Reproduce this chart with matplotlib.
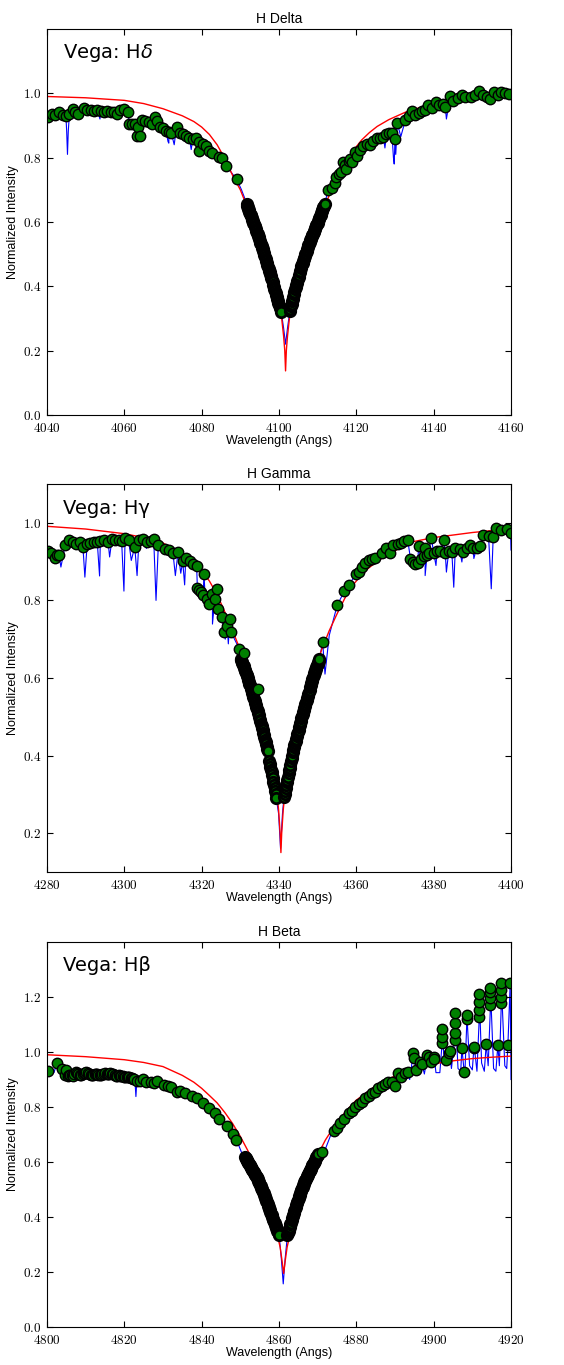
import numpy as np
import matplotlib.pyplot as plt
from matplotlib.ticker import FuncFormatter

plt.rcParams['mathtext.fontset'] = 'cm'
plt.rcParams['font.family'] = ['Liberation Sans', 'DejaVu Sans']

# шаг сетки длин волн в ядре линии (Å)
STEP = 0.15

# ---------------- H Delta ----------------
d_left_x = [4040.3, 4041.2, 4042.1, 4043.2, 4044.1, 4044.9, 4045.8, 4046.6, 4047.3, 4048.0,
            4049.6, 4050.4, 4051.3, 4052.2, 4053.0, 4053.9, 4054.7, 4055.6, 4056.5, 4057.3,
            4058.0, 4058.9, 4059.9, 4060.9, 4061.3, 4062.0, 4062.7, 4063.2, 4063.6, 4064.0,
            4064.6, 4065.4, 4066.4, 4067.2, 4068.0, 4068.4, 4069.2, 4070.1, 4070.8, 4071.6,
            4072.2, 4073.5, 4074.4, 4075.3, 4075.9, 4076.8, 4077.7, 4078.5, 4079.2, 4079.4,
            4080.3, 4081.1, 4082.0, 4082.8, 4084.4, 4085.3, 4086.3, 4089.1]
d_left_y = [0.927, 0.935, 0.931, 0.942, 0.932, 0.930, 0.937, 0.951, 0.942, 0.937,
            0.955, 0.947, 0.949, 0.944, 0.949, 0.945, 0.941, 0.944, 0.941, 0.942,
            0.937, 0.947, 0.951, 0.943, 0.906, 0.904, 0.906, 0.867, 0.895, 0.866,
            0.916, 0.914, 0.910, 0.906, 0.926, 0.914, 0.895, 0.892, 0.883, 0.880,
            0.875, 0.895, 0.877, 0.873, 0.866, 0.862, 0.858, 0.862, 0.849, 0.821,
            0.843, 0.835, 0.821, 0.813, 0.802, 0.798, 0.775, 0.732]
d_coreL_x0 = 4091.6
d_coreL_y = [0.655, 0.650, 0.645, 0.641, 0.636, 0.631, 0.626, 0.622, 0.617, 0.612,
             0.607, 0.603, 0.598, 0.593, 0.588, 0.583, 0.578, 0.573, 0.567, 0.562,
             0.557, 0.552, 0.547, 0.541, 0.536, 0.531, 0.526, 0.520, 0.515, 0.509,
             0.503, 0.497, 0.491, 0.485, 0.479, 0.473, 0.467, 0.461, 0.455, 0.449,
             0.443, 0.437, 0.431, 0.425, 0.418, 0.412, 0.405, 0.399, 0.392, 0.386,
             0.379, 0.373, 0.367, 0.361, 0.355, 0.349, 0.343, 0.337, 0.331, 0.325, 0.319]
d_coreR_x0 = 4102.8
d_coreR_y = [0.322, 0.330, 0.338, 0.346, 0.353, 0.361, 0.368, 0.376, 0.383, 0.391,
             0.397, 0.404, 0.410, 0.417, 0.423, 0.430, 0.436, 0.443, 0.449, 0.456,
             0.462, 0.468, 0.473, 0.479, 0.484, 0.489, 0.495, 0.500, 0.505, 0.511,
             0.516, 0.521, 0.527, 0.532, 0.538, 0.543, 0.547, 0.551, 0.556, 0.560,
             0.564, 0.569, 0.573, 0.577, 0.581, 0.586, 0.590, 0.594, 0.598, 0.603,
             0.608, 0.613, 0.618, 0.623, 0.628, 0.633, 0.638, 0.643, 0.647, 0.651, 0.655]
d_right_x = [4112.8, 4113.6, 4114.4, 4114.8, 4115.5, 4116.1, 4116.6, 4117.0, 4117.4, 4118.0,
             4118.3, 4119.0, 4119.7, 4120.3, 4120.9, 4121.8, 4122.7, 4123.5, 4124.4, 4125.3,
             4126.1, 4127.0, 4127.8, 4128.5, 4129.2, 4130.0, 4130.6, 4132.7, 4133.6, 4134.4,
             4135.3, 4136.2, 4137.0, 4137.7, 4138.6, 4139.6, 4140.7, 4141.5, 4142.5, 4143.0,
             4144.3, 4145.1, 4146.2, 4147.3, 4148.2, 4149.6, 4150.6, 4151.6, 4152.7, 4153.7,
             4154.6, 4155.6, 4156.6, 4157.5, 4158.5, 4159.4]
d_right_y = [0.699, 0.704, 0.720, 0.740, 0.748, 0.756, 0.787, 0.777, 0.766, 0.789,
             0.797, 0.787, 0.818, 0.806, 0.824, 0.835, 0.842, 0.838, 0.851, 0.861,
             0.861, 0.865, 0.872, 0.877, 0.877, 0.859, 0.908, 0.917, 0.928, 0.945,
             0.934, 0.940, 0.945, 0.947, 0.964, 0.955, 0.972, 0.964, 0.968, 0.958,
             0.992, 0.977, 0.985, 0.996, 0.989, 0.989, 0.994, 1.007, 0.994, 0.988,
             0.983, 1.003, 0.994, 1.004, 1.001, 0.999]
# точки спектра, не попавшие в выборку (узкие линии)
d_dip_x = [4045.1, 4045.3, 4045.5, 4053.7, 4057.6, 4063.0, 4067.6, 4068.7, 4071.3, 4071.5,
           4072.9, 4077.3, 4078.0, 4087.8, 4090.3, 4091.2, 4101.2, 4101.7, 4102.2, 4112.2,
           4127.4, 4129.6, 4129.8, 4130.2, 4131.5, 4143.3, 4145.7]
d_dip_y = [0.880, 0.810, 0.880, 0.920, 0.925, 0.880, 0.890, 0.885, 0.850, 0.845,
           0.840, 0.825, 0.845, 0.752, 0.700, 0.672, 0.270, 0.220, 0.270, 0.675,
           0.830, 0.800, 0.780, 0.810, 0.865, 0.920, 0.965]
d_model_x = [4040, 4050, 4060, 4065, 4070, 4075, 4078, 4080, 4082, 4084, 4086, 4088, 4090,
             4092, 4094, 4096, 4098, 4099, 4100, 4100.7, 4101.2, 4101.5, 4101.7, 4101.9,
             4102.2, 4102.7, 4103.4, 4104.4, 4105.4, 4107.4, 4109.4, 4111.4, 4113.4,
             4115.4, 4117.4, 4119.4, 4121.4, 4123.4, 4125.4, 4128.4, 4133.4, 4138.4,
             4143.4, 4150, 4160]
d_model_y = [0.990, 0.986, 0.978, 0.968, 0.952, 0.930, 0.912, 0.895, 0.872, 0.840, 0.797,
             0.745, 0.700, 0.640, 0.580, 0.512, 0.437, 0.395, 0.345, 0.300, 0.245, 0.200,
             0.137, 0.200, 0.245, 0.300, 0.350, 0.400, 0.440, 0.510, 0.575, 0.635, 0.695,
             0.740, 0.785, 0.825, 0.855, 0.878, 0.897, 0.918, 0.945, 0.962, 0.973, 0.981,
             0.988]

# ---------------- H Gamma ----------------
g_left_x = [4280.3, 4281.1, 4282.0, 4282.6, 4283.1, 4284.7, 4285.6, 4286.7, 4287.6, 4288.5,
            4289.3, 4290.4, 4291.2, 4292.1, 4293.0, 4293.8, 4294.7, 4295.8, 4296.8, 4297.6,
            4298.5, 4299.3, 4300.2, 4301.1, 4302.7, 4303.8, 4304.9, 4305.9, 4306.8, 4307.6,
            4308.8, 4310.5, 4311.6, 4312.6, 4313.9, 4315.1, 4315.9, 4317.0, 4317.8, 4318.7,
            4318.9, 4319.4, 4319.9, 4320.4, 4320.6, 4321.3, 4322.0, 4322.8, 4323.4, 4324.0,
            4324.3, 4325.2, 4325.8, 4326.6, 4327.3, 4327.6, 4329.7, 4330.9]
g_left_y = [0.927, 0.921, 0.909, 0.916, 0.918, 0.942, 0.955, 0.951, 0.946, 0.951,
            0.938, 0.946, 0.948, 0.951, 0.951, 0.953, 0.955, 0.951, 0.958, 0.956,
            0.957, 0.954, 0.961, 0.956, 0.938, 0.957, 0.958, 0.951, 0.954, 0.958,
            0.944, 0.932, 0.929, 0.921, 0.925, 0.901, 0.909, 0.901, 0.895, 0.889,
            0.832, 0.826, 0.821, 0.813, 0.869, 0.804, 0.791, 0.817, 0.804, 0.830,
            0.778, 0.757, 0.718, 0.735, 0.751, 0.718, 0.676, 0.664]
g_coreL_x0 = 4330.1
g_coreL_y = [0.650, 0.646, 0.642, 0.638, 0.634, 0.630, 0.626, 0.621, 0.617, 0.613,
             0.608, 0.604, 0.599, 0.595, 0.590, 0.585, 0.581, 0.576, 0.571, 0.566,
             0.561, 0.556, 0.551, 0.546, 0.541, 0.536, 0.531, 0.526, 0.520, 0.515,
             0.510, 0.504, 0.499, 0.493, 0.488, 0.482, 0.476, 0.471, 0.465, 0.459,
             0.453, 0.447, 0.441, 0.435, 0.429, 0.423, 0.417, 0.412]
g_coreM_x0 = 4337.5
g_coreM_y = [0.385, 0.378, 0.371, 0.364, 0.357, 0.349, 0.341, 0.333, 0.325, 0.317,
             0.309, 0.300, 0.291]
g_coreR_x0 = 4341.3
g_coreR_y = [0.293, 0.301, 0.308, 0.316, 0.323, 0.331, 0.338, 0.346, 0.354, 0.362,
             0.369, 0.377, 0.385, 0.393, 0.400, 0.408, 0.415, 0.421, 0.427, 0.433,
             0.438, 0.444, 0.450, 0.456, 0.462, 0.467, 0.473, 0.479, 0.485, 0.490,
             0.496, 0.501, 0.506, 0.512, 0.517, 0.522, 0.528, 0.533, 0.538, 0.543,
             0.549, 0.554, 0.560, 0.565, 0.570, 0.576, 0.581, 0.586, 0.592, 0.597,
             0.602, 0.607, 0.612, 0.616, 0.620, 0.624, 0.629, 0.633, 0.637, 0.641,
             0.645, 0.650]
g_right_x = [4334.5, 4351.3, 4355.1, 4356.9, 4358.0, 4360.0, 4360.6, 4361.4, 4362.3, 4363.2,
             4364.0, 4364.9, 4366.6, 4367.7, 4368.8, 4369.6, 4370.7, 4371.5, 4372.4, 4373.3,
             4374.0, 4374.6, 4375.3, 4375.9, 4376.1, 4376.7, 4377.4, 4377.8, 4378.3, 4378.7,
             4379.4, 4380.0, 4380.9, 4381.7, 4382.6, 4383.0, 4383.9, 4384.7, 4385.6, 4386.7,
             4387.6, 4388.5, 4389.3, 4390.2, 4391.1, 4391.9, 4392.8, 4394.2, 4395.4, 4396.2,
             4397.3, 4399.0, 4399.9]
g_right_y = [0.571, 0.692, 0.789, 0.823, 0.839, 0.869, 0.873, 0.886, 0.897, 0.903,
             0.908, 0.910, 0.921, 0.934, 0.921, 0.944, 0.946, 0.947, 0.953, 0.955,
             0.908, 0.899, 0.895, 0.897, 0.940, 0.908, 0.915, 0.935, 0.918, 0.923,
             0.962, 0.923, 0.928, 0.928, 0.955, 0.923, 0.927, 0.925, 0.935, 0.932,
             0.925, 0.934, 0.944, 0.934, 0.935, 0.940, 0.968, 0.966, 0.964, 0.987,
             0.981, 0.984, 0.975]
g_dip_x = [4283.6, 4286.9, 4289.8, 4293.6, 4296.2, 4299.9, 4301.8, 4303.3, 4305.7, 4308.2,
           4313.2, 4314.6, 4315.6, 4318.8, 4321.0, 4322.8, 4326.1, 4326.9, 4328.5, 4339.9,
           4340.4, 4340.9, 4351.9, 4353.0, 4377.8, 4380.6, 4383.3, 4385.2, 4387.3, 4390.4,
           4394.9, 4400.0]
g_dip_y = [0.886, 0.934, 0.860, 0.863, 0.912, 0.824, 0.903, 0.864, 0.934, 0.800,
           0.864, 0.870, 0.840, 0.860, 0.790, 0.739, 0.700, 0.688, 0.700, 0.250,
           0.161, 0.250, 0.610, 0.710, 0.864, 0.890, 0.873, 0.834, 0.899, 0.908,
           0.830, 0.930]
g_model_x = [4280, 4290, 4300, 4305, 4310, 4315, 4318, 4320, 4322, 4324, 4326, 4328, 4330,
             4332, 4334, 4336, 4337.5, 4338.5, 4339.3, 4339.9, 4340.3, 4340.5, 4340.7,
             4341.1, 4341.7, 4342.5, 4343.5, 4345, 4347, 4349, 4351, 4353, 4355, 4357,
             4359, 4361, 4363, 4366, 4370, 4374, 4380, 4390, 4400]
g_model_y = [0.991, 0.984, 0.972, 0.962, 0.948, 0.920, 0.896, 0.877, 0.850, 0.815, 0.770,
             0.722, 0.672, 0.615, 0.550, 0.478, 0.420, 0.375, 0.320, 0.260, 0.200, 0.150,
             0.200, 0.260, 0.320, 0.375, 0.420, 0.478, 0.550, 0.615, 0.672, 0.722, 0.765,
             0.805, 0.838, 0.862, 0.882, 0.905, 0.928, 0.950, 0.962, 0.975, 0.985]

# ---------------- H Beta ----------------
b_left_x = [4800.3, 4802.6, 4804.0, 4804.7, 4805.0, 4805.4, 4805.7, 4806.0, 4806.4, 4806.7,
            4807.0, 4807.4, 4807.8, 4808.1, 4808.5, 4808.8, 4809.2, 4809.5, 4809.9, 4810.2,
            4810.6, 4810.9, 4811.3, 4811.6, 4812.0, 4812.3, 4812.7, 4813.0, 4813.3, 4813.6,
            4814.0, 4814.3, 4814.7, 4815.0, 4815.4, 4815.7, 4816.1, 4816.4, 4816.8, 4817.1,
            4817.5, 4817.8, 4818.2, 4818.5, 4818.9, 4819.2, 4819.6, 4819.9, 4820.3, 4820.6,
            4820.9, 4821.2, 4821.6, 4821.9, 4822.3, 4822.6, 4823.3, 4824.0, 4824.9, 4825.7,
            4827.0, 4827.6, 4828.5, 4830.2, 4831.3, 4832.2, 4833.5, 4834.4, 4835.7, 4837.4,
            4838.7, 4840.4, 4842.0, 4843.4, 4844.6, 4846.5, 4848.0, 4849.0]
b_left_y = [0.932, 0.961, 0.938, 0.916, 0.935, 0.913, 0.915, 0.916, 0.918, 0.914,
            0.921, 0.927, 0.922, 0.919, 0.917, 0.916, 0.920, 0.922, 0.925, 0.926,
            0.923, 0.920, 0.917, 0.915, 0.917, 0.919, 0.921, 0.920, 0.918, 0.916,
            0.917, 0.919, 0.921, 0.922, 0.921, 0.920, 0.921, 0.922, 0.921, 0.920,
            0.916, 0.913, 0.914, 0.916, 0.914, 0.913, 0.911, 0.910, 0.909, 0.908,
            0.908, 0.908, 0.906, 0.904, 0.903, 0.901, 0.895, 0.895, 0.901, 0.892,
            0.892, 0.889, 0.895, 0.880, 0.877, 0.874, 0.856, 0.860, 0.852, 0.840,
            0.832, 0.814, 0.798, 0.777, 0.757, 0.732, 0.702, 0.680]
b_coreL_x0 = 4851.2
b_coreL_y = [0.617, 0.613, 0.610, 0.606, 0.603, 0.599, 0.596, 0.592, 0.589, 0.585,
             0.582, 0.578, 0.575, 0.571, 0.568, 0.564, 0.561, 0.557, 0.554, 0.550,
             0.546, 0.542, 0.537, 0.532, 0.527, 0.522, 0.517, 0.512, 0.507, 0.502,
             0.497, 0.492, 0.487, 0.481, 0.476, 0.470, 0.464, 0.459, 0.453, 0.447,
             0.441, 0.436, 0.430, 0.424, 0.418, 0.412, 0.406, 0.400, 0.394, 0.388,
             0.383, 0.377, 0.372, 0.366, 0.361, 0.355, 0.350, 0.344, 0.338, 0.333]
b_coreR_x0 = 4862.2
b_coreR_y = [0.335, 0.343, 0.350, 0.358, 0.365, 0.373, 0.380, 0.388, 0.395, 0.402,
             0.409, 0.416, 0.423, 0.429, 0.436, 0.443, 0.450, 0.456, 0.462, 0.469,
             0.475, 0.481, 0.487, 0.494, 0.500, 0.506, 0.511, 0.516, 0.521, 0.526,
             0.531, 0.535, 0.540, 0.545, 0.549, 0.554, 0.558, 0.562, 0.567, 0.571,
             0.575, 0.580, 0.584, 0.588, 0.593, 0.597, 0.601, 0.605, 0.609, 0.614,
             0.618, 0.622, 0.626, 0.630]
b_right_x = [4871.2, 4874.1, 4874.9, 4875.8, 4876.9, 4878.0, 4878.8, 4879.7, 4880.6, 4881.4,
             4882.3, 4883.2, 4884.0, 4884.9, 4885.7, 4886.6, 4887.5, 4888.3, 4889.2, 4890.1,
             4890.9, 4891.5, 4892.7, 4893.3, 4894.6, 4894.8, 4895.5, 4896.4, 4897.0, 4898.4,
             4898.7, 4899.3, 4900.0, 4900.2, 4902.2, 4902.2, 4902.2, 4903.3, 4903.9, 4904.1,
             4905.4, 4905.6, 4905.6, 4905.6, 4907.3, 4907.9, 4908.6, 4908.6, 4910.4, 4910.5,
             4911.8, 4911.8, 4911.8, 4911.8, 4913.6, 4914.7, 4914.7, 4914.7, 4914.7, 4916.6,
             4917.5, 4917.5, 4917.5, 4917.5, 4919.2, 4919.8]
b_right_y = [0.638, 0.711, 0.723, 0.741, 0.757, 0.777, 0.787, 0.801, 0.810, 0.820,
             0.832, 0.840, 0.850, 0.856, 0.868, 0.877, 0.884, 0.892, 0.892, 0.877,
             0.925, 0.910, 0.925, 0.929, 0.995, 0.977, 0.935, 0.965, 0.956, 0.989,
             0.981, 0.965, 0.983, 0.973, 1.034, 1.053, 1.082, 0.971, 0.995, 1.004,
             1.044, 1.068, 1.107, 1.143, 1.013, 0.929, 1.119, 1.135, 1.013, 1.019,
             1.126, 1.153, 1.183, 1.211, 1.029, 1.171, 1.195, 1.219, 1.231, 1.025,
             1.177, 1.201, 1.225, 1.252, 1.025, 1.252]
b_dip_x = [4801.0, 4801.8, 4805.2, 4822.8, 4823.0, 4823.2, 4836.5, 4841.0, 4844.0, 4846.0,
           4849.6, 4850.6, 4860.6, 4861.1, 4861.6, 4871.8, 4873.3, 4886.0, 4893.8, 4894.2,
           4896.0, 4897.6, 4899.0, 4900.6, 4901.6, 4902.8, 4904.6, 4906.3, 4907.0, 4908.1,
           4909.3, 4910.0, 4911.2, 4912.4, 4913.1, 4914.1, 4915.5, 4916.1, 4917.0, 4918.4,
           4918.9, 4920.0]
b_dip_y = [0.920, 0.925, 0.900, 0.885, 0.838, 0.885, 0.830, 0.800, 0.770, 0.720,
           0.660, 0.625, 0.250, 0.157, 0.250, 0.640, 0.695, 0.855, 0.900, 0.935,
           0.915, 0.920, 0.950, 0.925, 0.925, 0.950, 0.940, 0.940, 0.930, 0.930,
           0.950, 0.935, 0.930, 0.960, 0.930, 0.950, 0.940, 0.930, 0.950, 0.950,
           0.940, 0.900]
b_model_x = [4800, 4810, 4820, 4825, 4830, 4835, 4838, 4840, 4842, 4844, 4846, 4848, 4850,
             4852, 4854, 4855.5, 4857, 4858.5, 4859.5, 4860.3, 4860.8, 4861.2, 4861.6,
             4862.1, 4862.9, 4863.9, 4865.1, 4866.6, 4868, 4870, 4872, 4875, 4878, 4880,
             4885, 4890, 4895, 4900, 4905, 4910, 4915, 4920]
b_model_y = [0.990, 0.983, 0.972, 0.962, 0.947, 0.915, 0.890, 0.868, 0.842, 0.815, 0.780,
             0.740, 0.693, 0.640, 0.573, 0.520, 0.460, 0.395, 0.340, 0.290, 0.240, 0.195,
             0.240, 0.290, 0.340, 0.395, 0.450, 0.510, 0.560, 0.625, 0.680, 0.745, 0.795,
             0.825, 0.877, 0.913, 0.940, 0.957, 0.968, 0.976, 0.981, 0.985]


def core(x0, ys):
    # равномерная сетка длин волн в ядре линии
    return x0 + STEP * np.arange(len(ys)), np.array(ys)


def stack(parts):
    xs = np.concatenate([np.asarray(p[0], float) for p in parts])
    ys = np.concatenate([np.asarray(p[1], float) for p in parts])
    order = np.argsort(xs, kind='stable')
    return xs[order], ys[order]


def draw_panel(ax, title, label, cont, cores, dip_x, dip_y, mod_x, mod_y, xlim, ylim, yticks):
    cx, cy = stack(cont)
    kx, ky = stack(cores)
    # спектр = выбранные точки + остальные
    sx, sy = stack([(cx, cy), (kx, ky), (dip_x, dip_y)])
    ax.plot(sx, sy, color='blue', lw=0.8, zorder=1)
    ax.plot(mod_x, mod_y, color='red', lw=1.0, zorder=1.5)
    # ядро линии: точки идут так густо, что сливаются в чёрную полосу
    for px, py in cores:
        ax.plot(px, py, 'o', color='green', mec='black', ms=7.5, mew=2.0, zorder=2)
    ax.plot(cx, cy, 'o', color='green', mec='black', ms=7.5, mew=1.0, zorder=2)
    ax.set_xlim(*xlim)
    ax.set_ylim(*ylim)
    ax.set_xticks(np.arange(xlim[0], xlim[1] + 1, 20))
    ax.set_yticks(yticks)
    ax.xaxis.set_major_formatter(FuncFormatter(lambda v, p: '$%d$' % v))
    ax.yaxis.set_major_formatter(FuncFormatter(lambda v, p: '$%.1f$' % v))
    ax.tick_params(direction='in', top=True, right=True, length=4, width=0.8,
                   labelsize=9.5)
    ax.tick_params(axis='x', pad=5)
    ax.tick_params(axis='y', pad=4)
    ax.set_title(title, fontsize=10, pad=4)
    ax.set_xlabel('Wavelength (Angs)', fontsize=9, labelpad=0)
    ax.set_ylabel('Normalized Intensity', fontsize=9, labelpad=3)
    ax.text(0.034, 0.938, label, transform=ax.transAxes, fontsize=14, va='center',
            family='DejaVu Sans', math_fontfamily='dejavusans')


fig = plt.figure(figsize=(5.64, 13.65), dpi=100)
ax1 = fig.add_axes([0.0833, 0.6960, 0.8227, 0.2828])
ax2 = fig.add_axes([0.0833, 0.3612, 0.8227, 0.2842])
ax3 = fig.add_axes([0.0833, 0.0278, 0.8227, 0.2821])

draw_panel(ax1, 'H Delta', 'Vega: H$\\delta$',
           [(d_left_x, d_left_y), (d_right_x, d_right_y)],
           [core(d_coreL_x0, d_coreL_y), core(d_coreR_x0, d_coreR_y)],
           d_dip_x, d_dip_y, d_model_x, d_model_y,
           (4040, 4160), (0.0, 1.2), [0.0, 0.2, 0.4, 0.6, 0.8, 1.0])
draw_panel(ax2, 'H Gamma', 'Vega: H\u03b3',
           [(g_left_x, g_left_y), (g_right_x, g_right_y)],
           [core(g_coreL_x0, g_coreL_y), core(g_coreM_x0, g_coreM_y),
            core(g_coreR_x0, g_coreR_y)],
           g_dip_x, g_dip_y, g_model_x, g_model_y,
           (4280, 4400), (0.1, 1.1), [0.2, 0.4, 0.6, 0.8, 1.0])
draw_panel(ax3, 'H Beta', 'Vega: H\u03b2',
           [(b_left_x, b_left_y), (b_right_x, b_right_y)],
           [core(b_coreL_x0, b_coreL_y), core(b_coreR_x0, b_coreR_y)],
           b_dip_x, b_dip_y, b_model_x, b_model_y,
           (4800, 4920), (0.0, 1.4), [0.0, 0.2, 0.4, 0.6, 0.8, 1.0, 1.2])

fig.savefig('out.png', dpi=100)
